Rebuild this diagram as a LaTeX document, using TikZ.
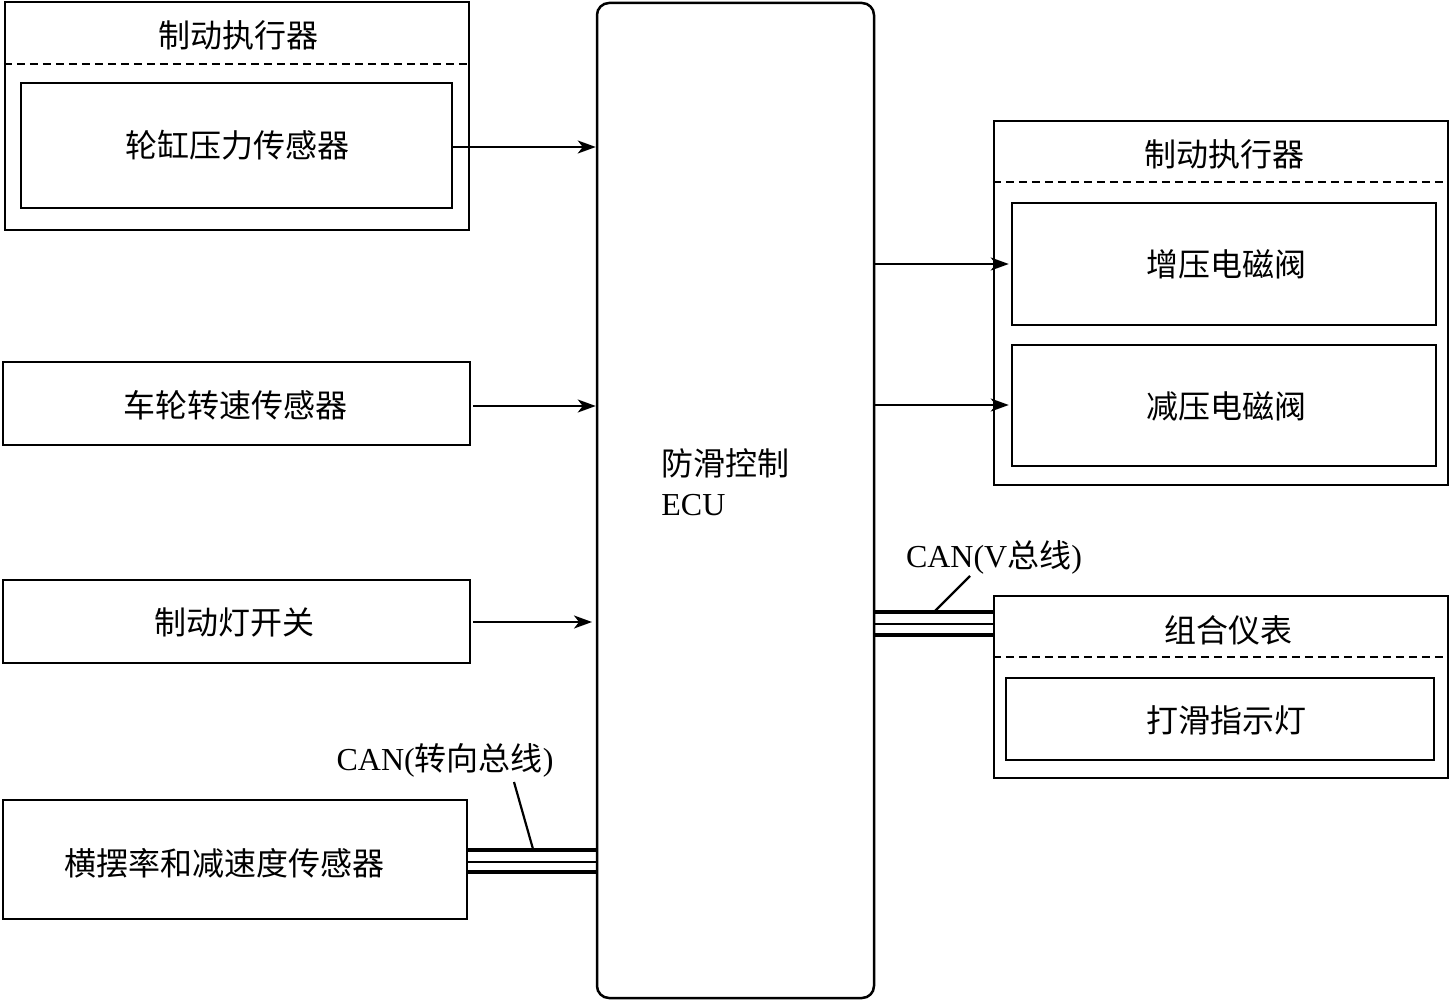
\documentclass[tikz,border=0pt]{standalone}
\usepackage{fontspec}
\setmainfont{Noto Sans CJK SC}
\newfontfamily\lat{Liberation Serif}
\usetikzlibrary{arrows.meta,fit}
\begin{document}
\begin{tikzpicture}[x=0.5pt,y=-0.5pt,
  box/.style={draw, line width=1.25pt, inner sep=0pt},
  lbl/.style={font=\fontsize{16}{19}\selectfont, inner sep=0pt},
  arr/.style={line width=1.1pt, -{Stealth[length=9pt,width=6.5pt,inset=2.5pt]}},
  dsh/.style={line width=0.9pt, dash pattern=on 4pt off 2.5pt},
  busthick/.style={line width=2.2pt},
  busthin/.style={line width=1.1pt},
  lead/.style={line width=1.1pt}]
\useasboundingbox (0,0) rectangle (1456,1000);

% ECU
\node[box, rounded corners=6pt, fit={(597,3) (874,998)}] (ecu) {};
\node[lbl, anchor=west] (ecut1) at (661,463) {防滑控制};
\node[lbl, anchor=west] (ecut2) at (661,505) {\lat ECU};

% top-left actuator
\node[box, fit={(5,2) (469,230)}] (A) {};
\node[lbl] (At) at (238,35) {制动执行器};
\draw[dsh] (A.west |- 0,64) -- (A.east |- 0,64);
\node[box, fit={(21,83) (452,208)}] (A1) {};
\node[lbl] (A1t) at (237,145) {轮缸压力传感器};

% left boxes
\node[box, fit={(3,362) (470,445)}] (B) {};
\node[lbl] (Bt) at (235,405) {车轮转速传感器};
\node[box, fit={(3,580) (470,663)}] (C) {};
\node[lbl] (Ct) at (234,622) {制动灯开关};
\node[box, fit={(3,800) (467,919)}] (D) {};
\node[lbl] (Dt) at (224,863) {横摆率和减速度传感器};

% right actuator
\node[box, fit={(994,121) (1448,485)}] (R) {};
\node[lbl] (Rt) at (1224,154) {制动执行器};
\draw[dsh] (R.west |- 0,182) -- (R.east |- 0,182);
\node[box, fit={(1012,203) (1436,325)}] (R1) {};
\node[lbl] (R1t) at (1226,264) {增压电磁阀};
\node[box, fit={(1012,345) (1436,466)}] (R2) {};
\node[lbl] (R2t) at (1226,406) {减压电磁阀};

% instrument cluster
\node[box, fit={(994,596) (1448,778)}] (S) {};
\node[lbl] (St) at (1228,630) {组合仪表};
\draw[dsh] (S.west |- 0,657) -- (S.east |- 0,657);
\node[box, fit={(1006,678) (1434,760)}] (S1) {};
\node[lbl] (S1t) at (1226,720) {打滑指示灯};

% arrows
\draw[arr] (A1.east |- 0,147) -- (ecu.west |- 0,147);
\draw[arr] ([xshift=1pt]B.east |- 0,406) -- (ecu.west |- 0,406);
\coordinate (cEnd) at (592,622);
\draw[arr] ([xshift=1pt]C.east |- 0,622) -- (cEnd);
\draw[arr] (ecu.east |- 0,264) -- ([xshift=-1pt]R1.west |- 0,264);
\draw[arr] (ecu.east |- 0,405) -- ([xshift=-1pt]R2.west |- 0,405);

% left CAN bus
\draw[busthick] (D.east |- 0,850) -- (ecu.west |- 0,850);
\draw[busthin] (D.east |- 0,862) -- (ecu.west |- 0,862);
\draw[busthick] (D.east |- 0,872) -- (ecu.west |- 0,872);
\node[lbl] (canL) at (445,760) {\lat CAN(\normalfont 转向总线\lat )};
\coordinate (lL1) at (514,782);
\coordinate (lL2) at (533,849);
\draw[lead] (lL1) -- (lL2);

% right CAN bus
\draw[busthick] (ecu.east |- 0,612) -- (S.west |- 0,612);
\draw[busthin] (ecu.east |- 0,624) -- (S.west |- 0,624);
\draw[busthick] (ecu.east |- 0,635) -- (S.west |- 0,635);
\node[lbl] (canR) at (994,557) {\lat CAN(V\normalfont 总线\lat )};
\coordinate (lR1) at (970,576);
\coordinate (lR2) at (935,611);
\draw[lead] (lR1) -- (lR2);
\end{tikzpicture}
\end{document}
